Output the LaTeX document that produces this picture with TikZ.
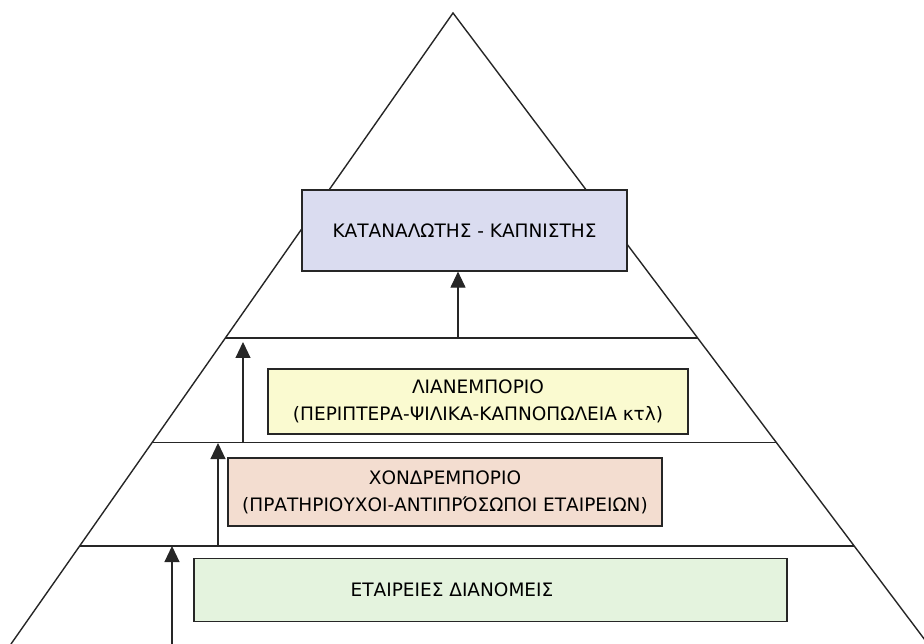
\documentclass[tikz,border=0pt]{standalone}
\usepackage{fontspec}
\setmainfont{DejaVu Sans}
\usetikzlibrary{arrows.meta,calc}
\definecolor{lavender}{RGB}{218,220,240}
\definecolor{paleyellow}{RGB}{250,250,208}
\definecolor{palepeach}{RGB}{243,221,208}
\definecolor{palegreen}{RGB}{228,243,222}
\tikzset{
  level/.style={draw=black!85,line width=1.4pt},
  tierbox/.style={draw=black!85,line width=1.2pt,inner sep=0pt,align=center,font=\fontsize{18.5}{27}\selectfont},
  uparrow/.style={draw=black!85,line width=1.1pt,-{Triangle[width=15pt,length=16pt]}}
}
\begin{document}
\begin{tikzpicture}[x=1pt,y=-1pt]
      \useasboundingbox (0,0) rectangle (924,644);
      \clip (0,0) rectangle (924,644);
      \coordinate (apex) at (453,13);
      \coordinate (BL) at (11,644);
      \coordinate (BR) at (928,644);

      \draw [level] (BL) -- (apex) -- (BR);
      \foreach \t in {0.515,0.681,0.845}
      {
        \draw [level] ($(apex)!\t!(BL)$) -- ($(apex)!\t!(BR)$);
      }

      \node [tierbox,fill=lavender,minimum width=325,minimum height=81] (smoker) at (464.5,230.5) {ΚΑΤΑΝΑΛΩΤΗΣ - ΚΑΠΝΙΣΤΗΣ};
      \node [tierbox,fill=paleyellow,minimum width=420,minimum height=65] (retail) at (478,401.5) {ΛΙΑΝΕΜΠΟΡΙΟ\\(ΠΕΡΙΠΤΕΡΑ-ΨΙΛΙΚΑ-ΚΑΠΝΟΠΩΛΕΙΑ κτλ)};
      \node [tierbox,fill=palepeach,minimum width=434,minimum height=68] (wholesale) at (445,492) {ΧΟΝΔΡΕΜΠΟΡΙΟ\\(ΠΡΑΤΗΡΙΟΥΧΟΙ-ΑΝΤΙΠΡΌΣΩΠΟΙ ΕΤΑΙΡΕΙΩΝ)};
      \node [tierbox,fill=palegreen,minimum width=593,minimum height=63] (distrib) at (490.5,590) {};
      \node [font=\fontsize{18.5}{27}\selectfont] (distribtext) at (452,590) {ΕΤΑΙΡΕΙΕΣ ΔΙΑΝΟΜΕΙΣ};

      % arrows between the levels
      \coordinate (f1) at (458,338);
      \coordinate (f2) at (243,443);
      \coordinate (t2) at (243,342);
      \coordinate (f3) at (218,546);
      \coordinate (t3) at (218,443);
      \coordinate (f4) at (172,646);
      \coordinate (t4) at (172,546);
      \draw [uparrow] (f1) -- (f1 |- smoker.south);
      \draw [uparrow] (f2) -- (t2);
      \draw [uparrow] (f3) -- (t3);
      \draw [uparrow] (f4) -- (t4);
\end{tikzpicture}
\end{document}
